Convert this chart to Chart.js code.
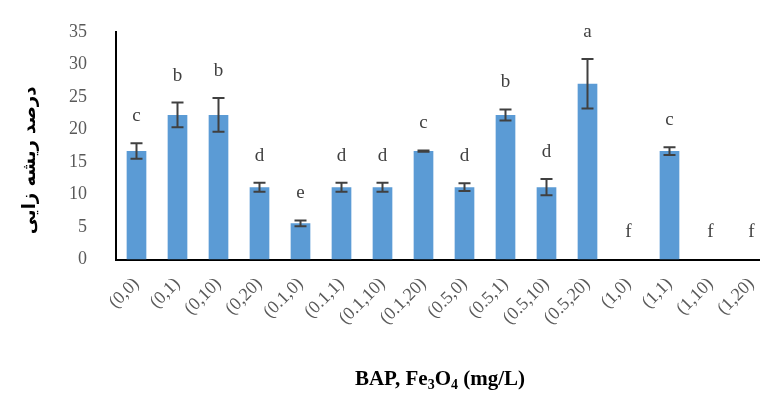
<!DOCTYPE html>
<html>
<head>
<meta charset="utf-8">
<script src="https://cdn.jsdelivr.net/npm/chart.js@4.4.1/dist/chart.umd.min.js"></script>
<style>
  html, body { margin: 0; padding: 0; background: #fff; overflow: hidden; }
  #wrap { width: 780px; height: 394px; }
</style>
</head>
<body>
<div id="wrap"><canvas id="chart"></canvas></div>
<script>
// BAP, Fe3O4 treatments (mg/L)
const categories = ['(0,0)', '(0,1)', '(0,10)', '(0,20)', '(0.1,0)', '(0.1,1)', '(0.1,10)', '(0.1,20)',
                    '(0.5,0)', '(0.5,1)', '(0.5,10)', '(0.5,20)', '(1,0)', '(1,1)', '(1,10)', '(1,20)'];
// rooting percentage (mean) and its error
const rootingPercent = [16.67, 22.22, 22.22, 11.11, 5.56, 11.11, 11.11, 16.67,
                        11.11, 22.22, 11.11, 27.0, 0, 16.67, 0, 0];
const stdError = [1.2, 1.9, 2.6, 0.7, 0.45, 0.7, 0.7, 0.1,
                  0.6, 0.85, 1.25, 3.8, 0, 0.6, 0, 0];
// Duncan groups
const groupLetters = ['c', 'b', 'b', 'd', 'e', 'd', 'd', 'c', 'd', 'b', 'd', 'a', 'f', 'c', 'f', 'f'];
const yMax = 35;
const yStep = 5;

const serif = '"Liberation Serif", "Times New Roman", serif';

// error bars, group letters and the two axis titles
const extras = {
    id: 'extras',
    afterDatasetsDraw(chart) {
        const { ctx, scales: { x, y }, chartArea } = chart;
        ctx.save();
        ctx.strokeStyle = '#404040';
        ctx.lineWidth = 2;
        rootingPercent.forEach((v, i) => {
            const cx = x.getPixelForValue(i);
            const err = stdError[i];
            const top = y.getPixelForValue(v + err);
            const bottom = y.getPixelForValue(v - err);
            if (err > 0) {
                ctx.beginPath();
                ctx.moveTo(cx, top);
                ctx.lineTo(cx, bottom);
                ctx.moveTo(cx - 6, top);
                ctx.lineTo(cx + 6, top);
                ctx.moveTo(cx - 6, bottom);
                ctx.lineTo(cx + 6, bottom);
                ctx.stroke();
            }
            ctx.fillStyle = '#404040';
            ctx.font = '19px ' + serif;
            ctx.textAlign = 'center';
            ctx.textBaseline = 'middle';
            ctx.fillText(groupLetters[i], cx, top - 27);
        });

        // x title with subscripts
        const parts = [
            { t: 'BAP, Fe', sub: false },
            { t: '3', sub: true },
            { t: 'O', sub: false },
            { t: '4', sub: true },
            { t: ' (mg/L)', sub: false }
        ];
        const big = 'bold 21px ' + serif;
        const small = 'bold 14px ' + serif;
        let total = 0;
        parts.forEach(p => {
            ctx.font = p.sub ? small : big;
            p.w = ctx.measureText(p.t).width;
            total += p.w;
        });
        let tx = (chartArea.left + chartArea.right) / 2 - 4 - total / 2;
        const ty = chart.height - 9;
        ctx.fillStyle = '#000';
        ctx.textAlign = 'left';
        ctx.textBaseline = 'alphabetic';
        parts.forEach(p => {
            ctx.font = p.sub ? small : big;
            ctx.fillText(p.t, tx, p.sub ? ty + 4 : ty);
            tx += p.w;
        });

        // y title
        ctx.translate(30, chartArea.top + chartArea.height * 0.565);
        ctx.rotate(-Math.PI / 2);
        ctx.font = 'bold 18px "DejaVu Sans", sans-serif';
        ctx.textAlign = 'center';
        ctx.textBaseline = 'middle';
        ctx.fillText('درصد ریشه زایی', 0, 0);
        ctx.restore();
    }
};

const ctx = document.getElementById('chart').getContext('2d');
const chart = new Chart(ctx, {
    type: 'bar',
    data: {
        labels: categories,
        datasets: [{
            data: rootingPercent,
            backgroundColor: '#5B9BD5',
            barPercentage: 0.48,
            categoryPercentage: 1
        }]
    },
    options: {
        responsive: true,
        maintainAspectRatio: false,
        animation: false,
        layout: { padding: { left: 10, top: 23.5, right: 8, bottom: 0 } },
        plugins: {
            legend: { display: false },
            tooltip: { enabled: false }
        },
        scales: {
            x: {
                grid: { display: false },
                border: { display: true, color: '#000', width: 2 },
                ticks: {
                    color: '#595959',
                    font: { family: serif, size: 18 },
                    minRotation: 45,
                    maxRotation: 45,
                    padding: 6,
                    autoSkip: false
                },
                afterFit(scale) { scale.height = 134.5; }
            },
            y: {
                min: 0,
                max: yMax,
                grid: { display: false },
                border: { display: true, color: '#000', width: 2 },
                ticks: {
                    stepSize: yStep,
                    color: '#595959',
                    font: { family: serif, size: 18 },
                    padding: 21
                },
                afterFit(scale) { scale.width = 106; }
            }
        }
    },
    plugins: [extras]
});
</script>
</body>
</html>
